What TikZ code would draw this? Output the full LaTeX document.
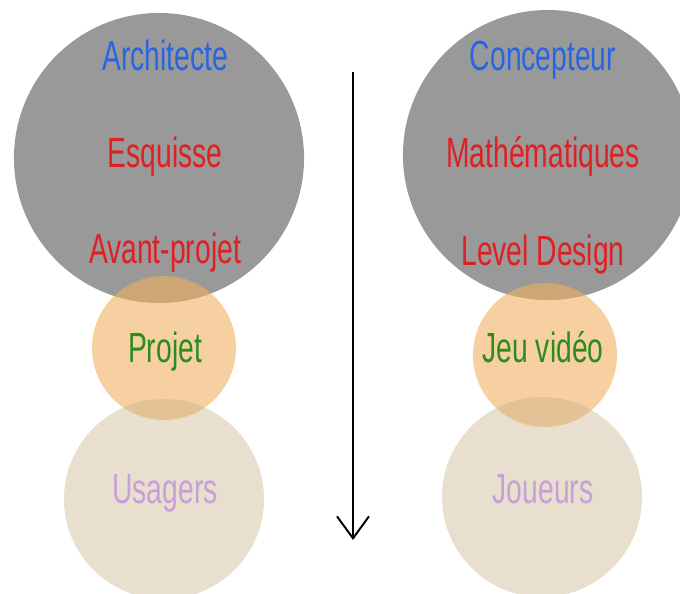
\documentclass[tikz,border=0pt]{standalone}
\usepackage{fontspec}
\setmainfont{Liberation Sans}
\usetikzlibrary{arrows.meta}

\definecolor{discgrey}{RGB}{0,0,0}
\definecolor{discorange}{RGB}{240,176,96}
\definecolor{discbeige}{RGB}{200,176,136}
\definecolor{txtblue}{RGB}{38,102,228}
\definecolor{txtred}{RGB}{222,32,34}
\definecolor{txtgreen}{RGB}{44,140,30}
\definecolor{txtlilac}{RGB}{198,160,214}

\tikzset{
  disc/.style={circle, inner sep=0pt, draw=none},
  lbl/.style={font=\fontsize{30}{36}\selectfont, inner sep=0pt, anchor=base},
  timeline/.style={line width=1.4pt, -{Straight Barb[length=0.55cm, width=0.8cm, line width=1.4pt]}}
}
% narrow letters, close to a condensed face
\newcommand{\narrow}[1]{\scalebox{0.67}[1]{#1}}

\begin{document}
\begin{tikzpicture}[x=0.025cm, y=-0.025cm]
  \useasboundingbox (0,0) rectangle (680,594);
  \clip (0,0) rectangle (680,594);
  % the three levels of each column
  \foreach \n/\x/\y in {archi/159/158, conc/548/155}
    {\node[disc, fill=discgrey, fill opacity=0.4, minimum size=7.25cm] (\n) at (\x,\y) {};};
  \foreach \n/\x/\y in {projet/164/348, jeu/545/355}
    {\node[disc, fill=discorange, fill opacity=0.6, minimum size=3.6cm] (\n) at (\x,\y) {};};
  \foreach \n/\x/\y in {usagers/164/499, joueurs/542/497}
    {\node[disc, fill=discbeige, fill opacity=0.4, minimum size=5cm] (\n) at (\x,\y) {};};
  % texts
  \foreach \n/\x/\y/\c/\t in {l1/165/70/txtblue/Architecte, l2/165/167/txtred/Esquisse,
      l3/165/263/txtred/Avant-projet, l4/165/362/txtgreen/Projet, l5/165/503/txtlilac/Usagers,
      r1/543/70/txtblue/Concepteur, r2/543/167/txtred/Mathématiques,
      r3/543/265/txtred/Level Design, r4/543/362/txtgreen/Jeu vidéo, r5/543/503/txtlilac/Joueurs}
    {\node[lbl, text=\c] (\n) at (\x,\y) {\narrow{\t}};};
  % time goes down
  \coordinate (t0) at (353,72);
  \coordinate (t1) at (353,540);
  \draw[timeline] (t0) -- (t1);
\end{tikzpicture}
\end{document}
